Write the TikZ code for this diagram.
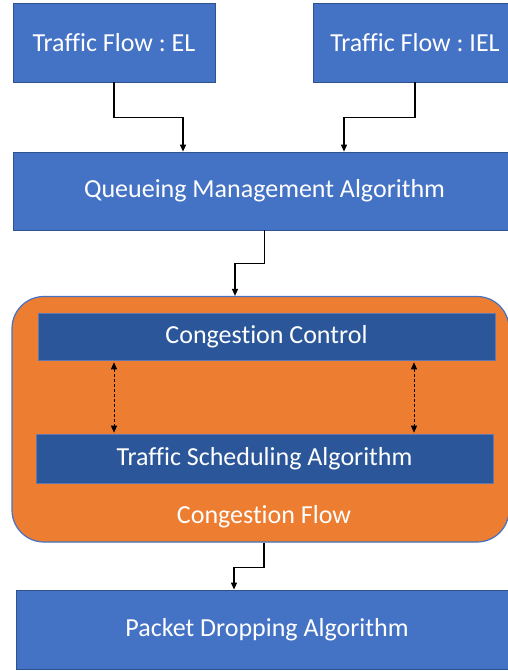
\documentclass[tikz,border=0pt]{standalone}
\usepackage{fontspec}
\setmainfont{Carlito}[Ligatures={NoCommon}]
\usetikzlibrary{arrows.meta}
\frenchspacing

\definecolor{boxblue}{RGB}{68,114,196}
\definecolor{boxedge}{RGB}{47,82,143}
\definecolor{innerblue}{RGB}{43,87,154}
\definecolor{inneredge}{RGB}{95,120,175}
\definecolor{flow}{RGB}{237,125,49}

\begin{document}
\begin{tikzpicture}[
        x=1pt,
        y=-1pt,
        line join=miter,
        lbl/.style={text=white, font=\fontsize{26}{30}\selectfont},
        blk/.style={lbl, draw=boxedge, fill=boxblue, line width=0.8pt, inner sep=0pt},
        sub/.style={lbl, draw=inneredge, fill=innerblue, line width=0.6pt, inner sep=0pt},
        arr/.style={-{Triangle[length=7pt,width=6pt]}, line width=1.2pt},
        dbl/.style={{Triangle[length=7pt,width=6pt]}-{Triangle[length=7pt,width=6pt]},
            line width=1pt, dash pattern=on 3pt off 2pt, shorten <=2pt, shorten >=1pt}
    ]
        \useasboundingbox (0,0) rectangle (507,671);

        \node[blk, minimum width=202pt, minimum height=79pt] (el) at (114,42.5) {Traffic Flow : EL};
        \node[blk, minimum width=204pt, minimum height=79pt] (iel) at (415,42.5) {Traffic Flow : IEL};
        \node[blk, minimum width=503pt, minimum height=78pt] (qma) at (264.5,191) {Queueing Management Algorithm};

        \node[draw=boxblue, fill=flow, rounded corners=32pt, line width=1.2pt,
            minimum width=497pt, minimum height=245.5pt] (cgf) at (260.5,419.25) {};
        \node[lbl] (cgflbl) at (264,517) {Congestion Flow};
        \node[sub, minimum width=457pt, minimum height=47pt] (cc) at (266.5,336.5) {Congestion Control};
        \node[sub, minimum width=457pt, minimum height=49pt] (tsa) at (264.5,458.5) {Traffic Scheduling Algorithm};

        \node[blk, minimum width=502pt, minimum height=79pt] (pda) at (267,629.5) {Packet Dropping Algorithm};

        \draw[arr] (el.south) -- ++(0,35) -| ([xshift=-81.5pt]qma.north);
        \draw[arr] (iel.south) -- ++(0,35) -| ([xshift=79.5pt]qma.north);
        \draw[arr] (qma.south) -- ++(0,33) -| ([xshift=-25.5pt]cgf.north);
        \draw[arr] ([xshift=3.5pt]cgf.south) -- ++(0,25) -| ([xshift=-33pt]pda.north);

        \draw[dbl] ([xshift=-152.5pt]cc.south) -- ([xshift=-150.5pt]tsa.north);
        \draw[dbl] ([xshift=147.5pt]cc.south) -- ([xshift=149.5pt]tsa.north);
    \end{tikzpicture}
\end{document}
